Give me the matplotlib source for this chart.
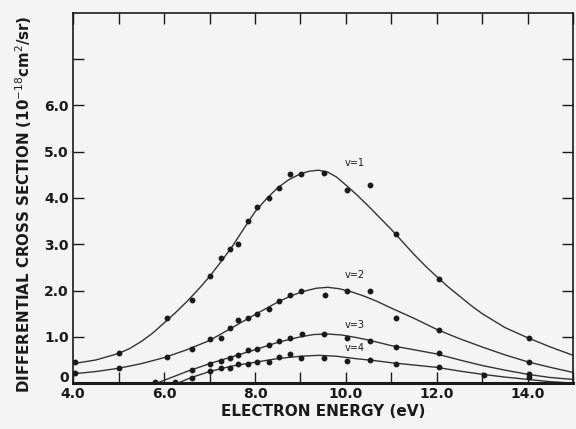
import matplotlib.pyplot as plt
from matplotlib.transforms import ScaledTranslation

# measured points (eV, 1e-18 cm^2/sr)
x1 = [4.04, 5.0, 6.07, 6.61, 7.0, 7.25, 7.45, 7.62, 7.84, 8.05, 8.31, 8.53, 8.77, 9.01, 9.53, 10.03, 10.54, 11.11, 12.05, 14.04]
y1 = [0.46, 0.64, 1.40, 1.79, 2.31, 2.71, 2.89, 3.00, 3.51, 3.81, 4.00, 4.22, 4.51, 4.51, 4.53, 4.18, 4.29, 3.22, 2.26, 0.98]

x2 = [4.04, 5.0, 6.07, 6.61, 7.0, 7.25, 7.45, 7.63, 7.84, 8.05, 8.31, 8.53, 8.77, 9.01, 9.54, 10.03, 10.54, 11.11, 12.05, 14.04]
y2 = [0.21, 0.32, 0.57, 0.73, 0.95, 0.98, 1.18, 1.36, 1.40, 1.50, 1.61, 1.77, 1.90, 1.99, 1.90, 1.99, 1.99, 1.40, 1.14, 0.46]

x3 = [5.80, 6.61, 7.0, 7.25, 7.45, 7.62, 7.84, 8.05, 8.31, 8.53, 8.77, 9.04, 9.53, 10.03, 10.54, 11.11, 12.05, 14.04]
y3 = [0.03, 0.28, 0.42, 0.48, 0.55, 0.60, 0.71, 0.73, 0.82, 0.91, 0.97, 1.07, 1.07, 0.97, 0.91, 0.78, 0.64, 0.19]

x4 = [6.24, 6.61, 7.0, 7.25, 7.45, 7.63, 7.84, 8.05, 8.31, 8.53, 8.77, 9.01, 9.53, 10.03, 10.54, 11.11, 12.05, 13.05, 14.04]
y4 = [0.02, 0.12, 0.26, 0.32, 0.33, 0.42, 0.42, 0.45, 0.45, 0.57, 0.62, 0.55, 0.55, 0.48, 0.50, 0.42, 0.35, 0.17, 0.14]

# fitted curves
cx1 = [4.0, 4.5, 5.0, 5.25, 5.5, 5.75, 6.0, 6.25, 6.5, 6.75, 7.0, 7.25, 7.5, 7.75, 8.0, 8.25, 8.5, 8.75,
       9.0, 9.2, 9.4, 9.6, 9.8, 10.0, 10.25, 10.5, 10.75, 11.0, 11.25, 11.5, 11.75, 12.0, 12.25, 12.5,
       12.75, 13.0, 13.5, 14.0, 14.5, 15.0]
cy1 = [0.42, 0.50, 0.64, 0.75, 0.90, 1.08, 1.30, 1.52, 1.76, 2.02, 2.30, 2.62, 2.95, 3.33, 3.70, 3.98,
       4.22, 4.40, 4.52, 4.58, 4.60, 4.56, 4.45, 4.28, 4.06, 3.82, 3.57, 3.32, 3.05, 2.78, 2.53, 2.30,
       2.08, 1.88, 1.68, 1.50, 1.20, 0.98, 0.78, 0.60]

cx2 = [4.0, 4.5, 5.0, 5.5, 6.0, 6.5, 7.0, 7.5, 8.0, 8.5, 8.8, 9.1, 9.35, 9.6, 9.85, 10.1, 10.4, 10.7,
       11.0, 11.5, 12.0, 12.5, 13.0, 13.5, 14.0, 14.5, 15.0]
cy2 = [0.20, 0.25, 0.32, 0.42, 0.55, 0.72, 0.92, 1.20, 1.48, 1.75, 1.89, 1.99, 2.05, 2.07, 2.04, 1.98,
       1.88, 1.76, 1.62, 1.40, 1.16, 0.96, 0.78, 0.61, 0.46, 0.34, 0.23]

cx3 = [5.85, 6.0, 6.5, 7.0, 7.5, 8.0, 8.5, 9.0, 9.3, 9.6, 9.9, 10.2, 10.5, 11.0, 11.5, 12.0, 12.5,
       13.0, 13.5, 14.0, 14.5, 15.0]
cy3 = [0.0, 0.06, 0.25, 0.42, 0.57, 0.72, 0.88, 1.00, 1.05, 1.06, 1.04, 0.99, 0.93, 0.81, 0.72, 0.63,
       0.50, 0.38, 0.28, 0.19, 0.12, 0.08]

cx4 = [6.3, 6.6, 7.0, 7.5, 8.0, 8.5, 9.0, 9.4, 9.8, 10.2, 10.6, 11.0, 11.5, 12.0, 12.5, 13.0, 13.5,
       14.0, 14.5, 15.0]
cy4 = [0.0, 0.12, 0.25, 0.37, 0.45, 0.53, 0.58, 0.60, 0.58, 0.53, 0.49, 0.44, 0.39, 0.34, 0.26, 0.19,
       0.13, 0.08, 0.03, 0.0]

labels = ['v=1', 'v=2', 'v=3', 'v=4']
label_y = [4.75, 2.33, 1.25, 0.76]

ink = '#1a1a1a'
fig = plt.figure(figsize=(5.76, 4.29), dpi=100, facecolor='#f4f4f4')
ax = fig.add_axes([0.127, 0.107, 0.868, 0.863])
ax.set_facecolor('#f4f4f4')

for cx, cy in [(cx1, cy1), (cx2, cy2), (cx3, cy3), (cx4, cy4)]:
    ax.plot(cx, cy, color='#333333', lw=1.0, zorder=2)
for x, y in [(x1, y1), (x2, y2), (x3, y3), (x4, y4)]:
    ax.plot(x, y, 'o', color=ink, ms=3.2, zorder=3)

for lab, ly in zip(labels, label_y):
    ax.text(10.2, ly, lab, fontsize=7, color=ink, ha='center', va='center')

ax.set_xlim(4.0, 15.0)
ax.set_ylim(0, 8.0)
ax.set_xticks(range(4, 16))
ax.set_xticklabels(['4.0', '', '6.0', '', '8.0', '', '10.0', '', '12.0', '', '14.0', ''])
ax.set_yticks(range(0, 8))
ax.set_yticklabels(['0', '1.0', '2.0', '3.0', '4.0', '5.0', '6.0', ''])
ax.tick_params(direction='in', length=8, width=1, color=ink, top=True, right=True,
               labelsize=10, labelcolor=ink, pad=3)
for t in ax.get_xticklabels() + ax.get_yticklabels():
    t.set_fontweight('bold')
# the "0" label sits a little above the baseline in the original
zero = ax.get_yticklabels()[0]
zero.set_transform(zero.get_transform() + ScaledTranslation(0, 5 / 72, fig.dpi_scale_trans))
for s in ax.spines.values():
    s.set_color(ink)
    s.set_linewidth(1.2)
ax.spines['bottom'].set_linewidth(2.2)

ax.set_xlabel('ELECTRON ENERGY (eV)', fontsize=11, fontweight='bold', color=ink, labelpad=2)
ax.set_ylabel(r'DIFFERENTIAL CROSS SECTION (10$^{-18}$cm$^{2}$/sr)', fontsize=10.8,
              fontweight='bold', color=ink)
ax.yaxis.set_label_coords(-0.078, 0.482)

fig.savefig('out.png', dpi=100, facecolor=fig.get_facecolor())
